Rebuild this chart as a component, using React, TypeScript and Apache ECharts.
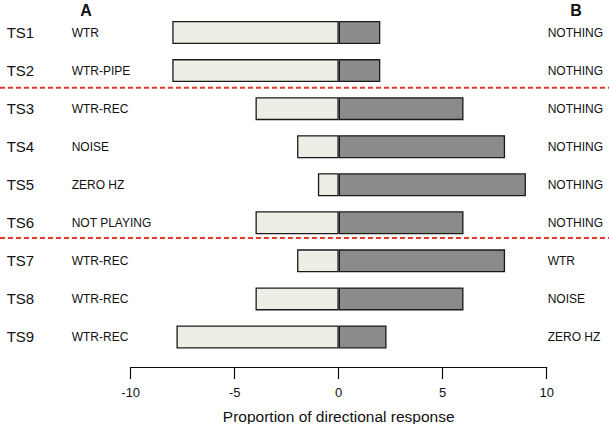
import React, { useEffect, useRef } from "react";
import * as echarts from "echarts";

const categories = ["TS1", "TS2", "TS3", "TS4", "TS5", "TS6", "TS7", "TS8", "TS9"];
const labelsA = ["WTR", "WTR-PIPE", "WTR-REC", "NOISE", "ZERO HZ", "NOT PLAYING", "WTR-REC", "WTR-REC", "WTR-REC"];
const labelsB = ["NOTHING", "NOTHING", "NOTHING", "NOTHING", "NOTHING", "NOTHING", "WTR", "NOISE", "ZERO HZ"];
const towardA = [-8, -8, -4, -2, -1, -4, -2, -4, -7.8];
const towardB = [2, 2, 6, 8, 9, 6, 8, 6, 2.3];
const separators = [1.45, 5.4];

const FONT = "'Liberation Sans', Arial, sans-serif";

export default function App() {
  const ref = useRef<HTMLDivElement>(null);
  useEffect(() => {
    if (!ref.current) return;
    const chart = echarts.init(ref.current, null, { renderer: "svg" });
    const option: any = {
      animation: false,
      backgroundColor: "#ffffff",
      textStyle: { fontFamily: FONT },
      grid: { left: 130.7, right: 62.3, top: 13.5, bottom: 68, containLabel: false, outerBoundsMode: "none" },
      xAxis: {
        type: "value",
        min: -10,
        max: 10,
        interval: 5,
        offset: 11,
        splitLine: { show: false },
        axisLine: { show: true, onZero: false, lineStyle: { color: "#111", width: 1.2 } },
        axisTick: { show: true, length: 12, lineStyle: { color: "#111", width: 1.2 } },
        axisLabel: { fontSize: 13, color: "#111", margin: 19, fontFamily: FONT },
        name: "Proportion of directional response",
        nameLocation: "middle",
        nameGap: 41,
        nameTextStyle: { fontSize: 15.5, color: "#111", fontFamily: FONT },
      },
      yAxis: [
        {
          type: "category",
          data: categories,
          inverse: true,
          position: "left",
          axisLine: { show: false, onZero: false },
          axisTick: { show: false },
          axisLabel: {
            align: "left",
            margin: 124,
            formatter: (v: string, i: number) => `{ts|${v}}{a|${labelsA[i]}}`,
            rich: {
              ts: { fontSize: 15, width: 65, color: "#111", fontFamily: FONT },
              a: { fontSize: 12, color: "#111", fontFamily: FONT },
            },
          },
        },
        {
          type: "category",
          data: categories,
          inverse: true,
          position: "right",
          axisLine: { show: false, onZero: false },
          axisTick: { show: false },
          axisLabel: {
            align: "left",
            margin: 1,
            fontSize: 12,
            color: "#111",
            fontFamily: FONT,
            formatter: (_v: string, i: number) => labelsB[i],
          },
        },
        {
          type: "value",
          min: -0.5,
          max: 8.5,
          inverse: true,
          show: false,
        },
      ],
      series: [
        {
          type: "bar",
          yAxisIndex: 0,
          data: towardA,
          barWidth: 23,
          barGap: "-100%",
          itemStyle: { color: "#eeede6", borderColor: "#1a1a1a", borderWidth: 1.3 },
        },
        {
          type: "bar",
          yAxisIndex: 0,
          data: towardB,
          barWidth: 23,
          barGap: "-100%",
          itemStyle: { color: "#8b8b8b", borderColor: "#1a1a1a", borderWidth: 1.3 },
        },
      ],
      graphic: [
        {
          type: "text",
          id: "hdrA",
          x: 86,
          y: 10,
          style: { text: "A", font: `bold 16px ${FONT}`, fill: "#111", align: "center", verticalAlign: "middle" },
        },
        {
          type: "text",
          id: "hdrB",
          x: 576,
          y: 10,
          style: { text: "B", font: `bold 16px ${FONT}`, fill: "#111", align: "center", verticalAlign: "middle" },
        },
      ],
    };
    chart.setOption(option);
    const lines = separators.map((s, k) => {
      const y = chart.convertToPixel({ yAxisIndex: 2 }, s) as number;
      return {
        type: "line",
        id: "sep" + k,
        shape: { x1: 0, y1: y, x2: 609, y2: y },
        style: { stroke: "#e8392b", lineWidth: 2, lineDash: [5, 3] },
        z: 10,
      };
    });
    chart.setOption({ graphic: [...option.graphic, ...lines] });
    return () => chart.dispose();
  }, []);
  return (
    <div
      ref={ref}
      style={{ position: "fixed", left: 0, top: 0, width: 609, height: 424 }}
    />
  );
}
